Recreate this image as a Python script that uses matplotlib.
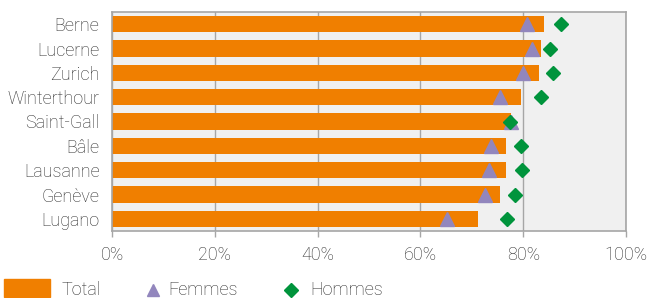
import matplotlib.pyplot as plt
from matplotlib.patches import Rectangle
from matplotlib.lines import Line2D
from matplotlib.ticker import PercentFormatter

plt.rcParams['font.family'] = ['Roboto', 'DejaVu Sans']

villes = ["Berne", "Lucerne", "Zurich", "Winterthour", "Saint-Gall", "Bâle", "Lausanne", "Genève", "Lugano"]
total = [84.0, 83.4, 83.0, 79.5, 77.6, 76.6, 76.6, 75.4, 71.3]
femmes = [80.7, 81.8, 79.9, 75.5, 77.6, 73.7, 73.4, 72.5, 65.2]
hommes = [87.3, 85.2, 85.8, 83.4, 77.4, 79.6, 79.8, 78.5, 76.9]

orange = "#f07f00"
violet = "#9286bd"
vert = "#00943c"
gris = "#a6a6a6"
texte = "#2b2b2b"

W, H = 648, 298
fig = plt.figure(figsize=(W/100, H/100), dpi=100)
ax = fig.add_axes([112/W, 1-231/H, 514/W, 219/H])

y = list(range(len(villes)))
ax.barh(y, total, height=0.66, color=orange, zorder=2)
ax.plot(femmes, y, linestyle="none", marker="^", markersize=10, color=violet, zorder=3)
ax.plot(hommes, y, linestyle="none", marker="D", markersize=7.5, color=vert, zorder=4)

ax.set_facecolor("#f0f0f0")
ax.set_xlim(0, 100)
ax.set_ylim(len(villes)-0.5, -0.5)
ax.set_xticks([0, 20, 40, 60, 80, 100])
ax.xaxis.set_major_formatter(PercentFormatter(decimals=0))
ax.set_yticks(y)
ax.set_yticklabels(villes)
ax.grid(axis="x", color=gris, linewidth=1, zorder=1)
ax.set_axisbelow(True)
for s in ax.spines.values():
    s.set_color(gris)
    s.set_linewidth(1.2)
ax.tick_params(axis="x", colors=gris, labelcolor=texte, labelsize=13, length=4, width=1, pad=7)
ax.tick_params(axis="y", length=0, labelcolor=texte, labelsize=13, pad=9)
for lab in ax.get_xticklabels() + ax.get_yticklabels():
    lab.set_fontweight("light")

# legende
yc = 1 - 290/H
fig.add_artist(Rectangle((4/W, 1-297/H), 46/W, 18/H, transform=fig.transFigure, color=orange))
fig.add_artist(Line2D([153/W], [yc], transform=fig.transFigure, linestyle="none",
                      marker="^", markersize=9, color=violet))
fig.add_artist(Line2D([291/W], [yc], transform=fig.transFigure, linestyle="none",
                      marker="D", markersize=7, color=vert))
for x, lab in [(62, "Total"), (168, "Femmes"), (310, "Hommes")]:
    fig.text(x/W, yc, lab, fontsize=13, color=texte, fontweight="light", va="center", ha="left")

fig.savefig("out.png", dpi=100)
